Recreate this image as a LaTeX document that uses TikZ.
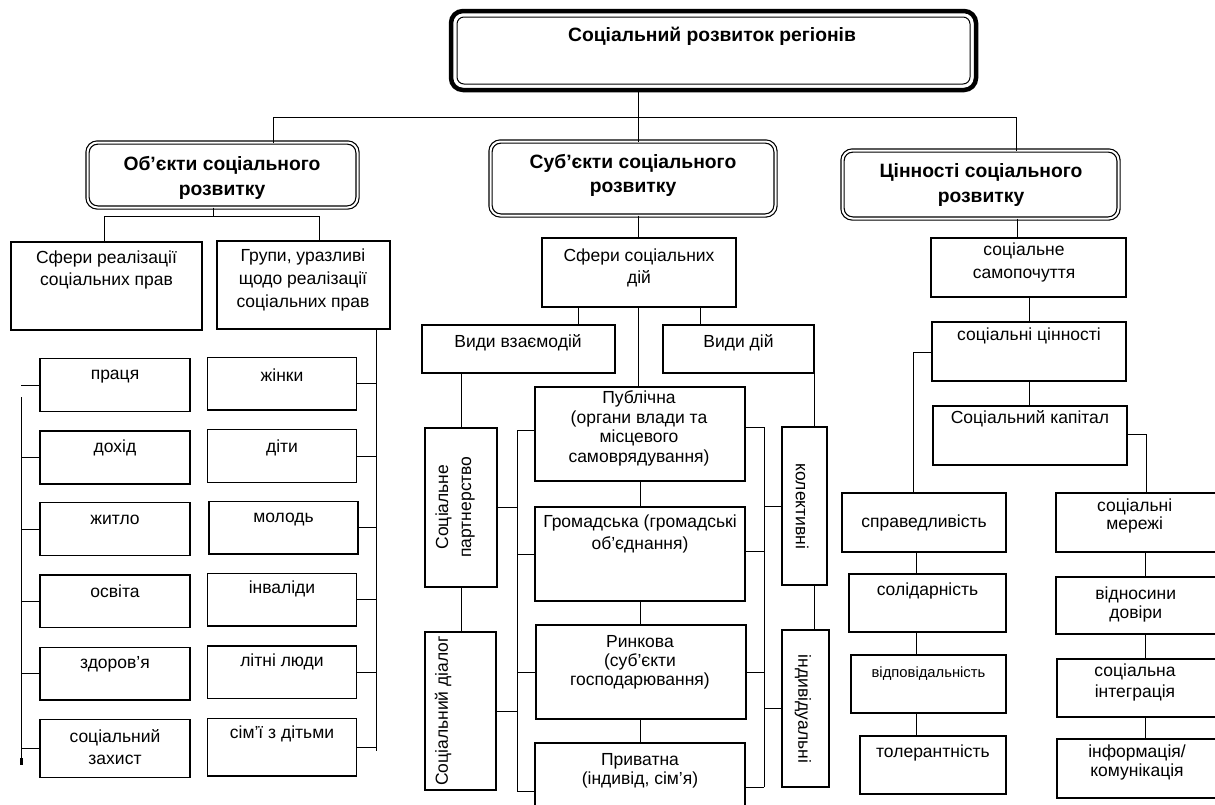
\documentclass[tikz,border=0pt]{standalone}
\usepackage{fontspec}
\setmainfont{Liberation Sans}
\begin{document}
\begin{tikzpicture}[x=1pt,y=-1pt,
  conn/.style={line width=1pt},
  box/.style={draw,line width=1.3pt,inner sep=0pt,outer sep=0pt},
  tbox/.style={draw,line width=2.5pt,inner sep=0pt,outer sep=0pt},
  dbox/.style={draw,double,double distance=2pt,line width=1.2pt,rounded corners=10pt,inner sep=0pt,outer sep=0pt},
  mainout/.style={draw,line width=4.5pt,rounded corners=12pt,inner sep=0pt,outer sep=0pt},
  mainin/.style={draw,line width=1pt,rounded corners=7pt,inner sep=0pt,outer sep=0pt},
  txt/.style={inner sep=0pt,align=center,font=\fontsize{17.5}{#1}\selectfont},
  txt/.default=22,
  btxt/.style={inner sep=0pt,align=center,font=\fontsize{19.3}{24.5}\selectfont\bfseries},
  stxt/.style={inner sep=0pt,align=center,font=\fontsize{14.8}{16}\selectfont}
]
\newcommand\bx[6]{%
  \pgfmathsetmacro\bxw{#4-#2}\pgfmathsetmacro\bxh{#5-#3}%
  \pgfmathsetmacro\bxx{(#2+#4)/2}\pgfmathsetmacro\bxy{(#3+#5)/2}%
  \node[#6,minimum width=\bxw pt,minimum height=\bxh pt] (#1) at (\bxx,\bxy) {};}
\useasboundingbox (0,0) rectangle (1215,804);

% ---------- top ----------
\bx{main}{451}{11}{976}{90}{mainout}
\bx{mainin}{457}{17}{970}{84}{mainin}
\node[btxt] (main-t) at (712,36) {Соціальний розвиток регіонів};

\bx{obj}{87.5}{142.5}{357.5}{207.5}{dbox}
\node[btxt] (obj-t) at (222,178) {Об’єкти соціального\\розвитку};
\bx{sub}{490.5}{141.5}{775.5}{215.5}{dbox}
\node[btxt] (sub-t) at (633,175.5) {Суб’єкти соціального\\розвитку};
\bx{val}{842.5}{150.5}{1118.5}{218.5}{dbox}
\node[btxt] (val-t) at (981,185) {Цінності соціального\\розвитку};

\coordinate (b0) at (638,117);
\coordinate (bL) at (273,117);
\coordinate (bR) at (1016,117);
\draw[conn] (b0 |- main.south) -- (b0 |- sub.north);
\draw[conn] (bL |- obj.north) -- (bL) -- (bR) -- (bR |- val.north);

% ---------- objects ----------
\bx{sfr}{11}{242}{202}{330}{tbox}
\node[txt] (sfr-t) at (106.5,270) {Сфери реалізації\\соціальних прав};
\bx{grp}{217}{241}{390}{329}{tbox}
\node[txt=23] (grp-t) at (303,280) {Групи, уразливі\\щодо реалізації\\соціальних прав};
\coordinate (ob) at (213,216);
\coordinate (obL) at (104,216);
\coordinate (obR) at (319,216);
\draw[conn] (ob |- obj.south) -- (ob);
\draw[conn] (obL |- sfr.north) -- (obL) -- (obR) -- (obR |- grp.north);

\bx{l1}{40}{358.7}{190}{411.7}{box}
\node[txt] (l1-t) at (115,376.5) {праця};
\bx{l2}{40}{431}{190}{484}{box}
\node[txt] (l2-t) at (115,448.3) {дохід};
\bx{l3}{40}{502.7}{190}{555.7}{box}
\node[txt] (l3-t) at (115,520) {житло};
\bx{l4}{40}{575}{190}{627.3}{box}
\node[txt] (l4-t) at (115,591.7) {освіта};
\bx{l5}{40}{647.3}{190}{700}{box}
\node[txt] (l5-t) at (115,664.3) {здоров’я};
\bx{l6}{40}{719.3}{190}{777.7}{box}
\node[txt] (l6-t) at (115,747) {соціальний\\захист};

\coordinate (lb1) at (21,397);
\coordinate (lb2) at (21,763);
\draw[conn] (l1.west) -- (l1.west -| lb1);
\draw[conn] (lb1) -- (lb2);
\foreach \n in {l2,l3,l4,l5,l6} \draw[conn] (\n.west) -- (\n.west -| lb1);
\fill (20,758) rectangle (22.6,765);

\bx{r1}{207.7}{357.7}{356.7}{410}{box}
\node[txt] (r1-t) at (282,375) {жінки};
\bx{r2}{207.7}{429.3}{356.7}{482.7}{box}
\node[txt] (r2-t) at (282,447.7) {діти};
\bx{r3}{209}{501.7}{358}{554}{box}
\node[txt] (r3-t) at (283.5,519.5) {молодь};
\bx{r4}{207.7}{573.7}{356.7}{626}{box}
\node[txt] (r4-t) at (282,589.3) {інваліди};
\bx{r5}{207.7}{646}{356.7}{698.3}{box}
\node[txt] (r5-t) at (282,662.3) {літні люди};
\bx{r6}{207.7}{718.3}{356.7}{776}{box}
\node[txt] (r6-t) at (282,734.3) {сім’ї з дітьми};

\coordinate (rb1) at (376,751);
\draw[conn] (rb1 |- grp.south) -- (rb1);
\foreach \n in {r1,r2,r3,r4,r5,r6} \draw[conn] (\n.east) -- (\n.east -| rb1);

% ---------- subjects ----------
\bx{sfd}{542}{238}{736}{307}{tbox}
\node[txt] (sfd-t) at (639,267.5) {Сфери соціальних\\дій};
\draw[conn] (b0 |- sub.south) -- (b0 |- sfd.north);

\bx{vvz}{422}{325}{615}{373}{tbox}
\node[txt] (vvz-t) at (518,342.7) {Види взаємодій};
\bx{vd}{663}{325}{814}{373}{tbox}
\node[txt] (vd-t) at (738.5,342.7) {Види дій};

\bx{pub}{535}{387}{745}{481}{box}
\node[txt=19.5] (pub-t) at (639,428.5) {Публічна\\(органи влади та\\місцевого\\самоврядування)};
\bx{grom}{535}{507}{745}{601}{box}
\node[txt] (grom-t) at (640,534) {Громадська (громадські\\об’єднання)};
\bx{rynk}{536}{625}{746}{719}{box}
\node[txt=19] (rynk-t) at (640,662.5) {Ринкова\\(суб’єкти\\господарювання)};
\bx{pryv}{535}{743}{745}{830}{box}
\node[txt=19] (pryv-t) at (640,771) {Приватна\\(індивід, сім’я)};

\coordinate (c1) at (578,0);
\coordinate (c3) at (700,0);
\coordinate (cm) at (640,0);
\draw[conn] (c1 |- sfd.south) -- (c1 |- vvz.north);
\draw[conn] (b0 |- sfd.south) -- (b0 |- pub.north);
\draw[conn] (c3 |- sfd.south) -- (c3 |- vd.north);
\draw[conn] (cm |- pub.south) -- (cm |- grom.north);
\draw[conn] (cm |- grom.south) -- (cm |- rynk.north);
\draw[conn] (cm |- rynk.south) -- (cm |- pryv.north);

\bx{sp}{425}{428}{497}{587}{box}
\node[txt=23,rotate=90] (sp-t) at (455,507) {Соціальне\\партнерство};
\bx{sd}{425}{632}{496}{790}{box}
\node[txt,rotate=90] (sd-t) at (443,711) {Соціальний діалог};
\bx{kol}{782}{427}{827}{585}{box}
\node[txt,rotate=-90] (kol-t) at (802,506.5) {колективні};
\bx{ind}{782}{630}{829}{787}{box}
\node[txt,rotate=-90] (ind-t) at (803,709) {індивідуальні};

\coordinate (c4) at (461,0);
\coordinate (c5) at (814,0);
\draw[conn] (c4 |- vvz.south) -- (c4 |- sp.north);
\draw[conn] (c4 |- sp.south) -- (c4 |- sd.north);
\draw[conn] (c5 |- vd.south) -- (c5 |- kol.north);
\draw[conn] (c5 |- kol.south) -- (c5 |- ind.north);

% left bus
\coordinate (mb1) at (517,430);
\coordinate (mb2) at (517,791);
\draw[conn] (mb1) -- (mb2);
\draw[conn] (mb1 -| pub.west) -- (mb1);
\draw[conn] (grom.west) -- (grom.west -| mb1);
\draw[conn] (rynk.west) -- (rynk.west -| mb1);
\draw[conn] (mb2 -| pryv.west) -- (mb2);
\draw[conn] (sp.east) -- (sp.east -| mb1);
\draw[conn] (sd.east) -- (sd.east -| mb1);
% right bus
\coordinate (nb1) at (764,427);
\coordinate (nb2) at (764,787);
\draw[conn] (nb1) -- (nb2);
\draw[conn] (nb1 -| pub.east) -- (nb1);
\draw[conn] ([yshift=3pt]grom.east) -- ([yshift=3pt]grom.east -| nb1);
\draw[conn] (rynk.east) -- (rynk.east -| nb1);
\draw[conn] (nb2 -| pryv.east) -- (nb2);
\draw[conn] (kol.west) -- (kol.west -| nb1);
\draw[conn] (ind.west) -- (ind.west -| nb1);

% ---------- values ----------
\bx{samo}{931}{238}{1126}{297}{tbox}
\node[txt=23] (samo-t) at (1024,262.3) {соціальне\\самопочуття};
\bx{cinn}{932}{322}{1126}{381}{tbox}
\node[txt] (cinn-t) at (1029,335.5) {соціальні цінності};
\bx{kap}{933}{406}{1127}{465}{tbox}
\node[txt] (kap-t) at (1030,419) {Соціальний капітал};

\coordinate (v1) at (1017,0);
\coordinate (v2) at (1029,0);
\draw[conn] (v1 |- val.south) -- (v1 |- samo.north);
\draw[conn] (v2 |- samo.south) -- (v2 |- cinn.north);
\draw[conn] (v2 |- cinn.south) -- (v2 |- kap.north);

\bx{spr}{842}{493}{1006}{552}{box}
\node[txt] (spr-t) at (924,523.3) {справедливість};
\bx{sol}{849}{574}{1006}{632}{box}
\node[txt] (sol-t) at (927.5,591) {солідарність};
\bx{vid}{851}{655}{1006}{713}{box}
\node[stxt] (vid-t) at (928.5,673.3) {відповідальність};
\bx{tol}{860}{736}{1006}{794}{box}
\node[txt] (tol-t) at (933,753) {толерантність};

\coordinate (sl) at (913,352);
\draw[conn] (sl -| cinn.west) -- (sl) -- (sl |- spr.north);
\coordinate (sc) at (916.5,0);
\draw[conn] (sc |- spr.south) -- (sc |- sol.north);
\draw[conn] (sc |- sol.south) -- (sc |- vid.north);
\draw[conn] (sc |- vid.south) -- (sc |- tol.north);

\bx{mer}{1056}{493}{1216}{552}{box}
\node[txt=18] (mer-t) at (1134.7,515.5) {соціальні\\мережі};
\bx{dov}{1056}{577}{1216}{634}{box}
\node[txt=19.5] (dov-t) at (1135.8,604.7) {відносини\\довіри};
\bx{int}{1057}{659}{1216}{717}{box}
\node[txt=21.5] (int-t) at (1135,682.5) {соціальна\\інтеграція};
\bx{inf}{1057}{739}{1216}{798}{box}
\node[txt=18.5] (inf-t) at (1137,762.5) {інформація/\\комунікація};

\coordinate (sr) at (1146,434);
\draw[conn] (sr -| kap.east) -- (sr) -- (sr |- mer.north);
\coordinate (sq) at (1145,0);
\draw[conn] (sq |- mer.south) -- (sq |- dov.north);
\draw[conn] (sq |- dov.south) -- (sq |- int.north);
\draw[conn] (sq |- int.south) -- (sq |- inf.north);
\end{tikzpicture}
\end{document}
